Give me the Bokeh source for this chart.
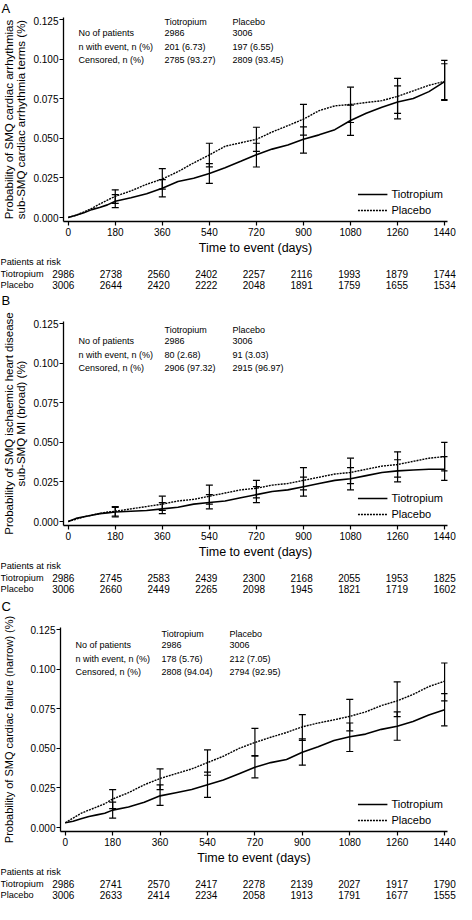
from bokeh.plotting import figure
from bokeh.layouts import column
from bokeh.models import (ColumnDataSource, FixedTicker, Label, Range1d, Whisker, TeeHead)
from bokeh.core.properties import value
from bokeh.embed import file_html
from bokeh.resources import INLINE

FONT = "Liberation Sans"

# ---------------- data ----------------
x_ticks = [0, 180, 360, 540, 720, 900, 1080, 1260, 1440]
x_tick_labels = ["0", "180", "360", "540", "720", "900", "1080", "1260", "1440"]
y_ticks = [0.0, 0.025, 0.05, 0.075, 0.1, 0.125]
y_tick_labels = ["0.000", "0.025", "0.050", "0.075", "0.100", "0.125"]
x_axis_title = "Time to event (days)"
groups = ["Tiotropium", "Placebo"]
stat_rows = ["No of patients", "n with event, n (%)", "Censored, n (%)"]
risk_title = "Patients at risk"
panel_letters = ["A", "B", "C"]

curve_days = [0, 30, 60, 90, 120, 150, 180, 240, 300, 360, 420, 480, 540, 600,
              660, 720, 780, 840, 900, 960, 1020, 1080, 1140, 1200, 1260, 1320, 1380, 1440]
ci_days = [180, 360, 540, 720, 900, 1080, 1260, 1440]

# Panel A
a_ylabel = "Probability of SMQ cardiac arrhythmias\nsub-SMQ cardiac arrhythmia terms (%)"
a_tio = [0, 0.0015, 0.003, 0.005, 0.0063, 0.008, 0.0103, 0.0125, 0.015, 0.0185, 0.0228, 0.0248,
         0.0278, 0.0315, 0.0355, 0.0397, 0.0432, 0.0458, 0.0494, 0.0522, 0.0555, 0.0613, 0.0658,
         0.0697, 0.073, 0.0752, 0.0795, 0.0858]
a_pla = [0, 0.0015, 0.0035, 0.0058, 0.0085, 0.011, 0.0134, 0.0168, 0.021, 0.0243, 0.029, 0.0345,
         0.0395, 0.045, 0.0472, 0.0494, 0.054, 0.058, 0.0621, 0.0675, 0.0705, 0.0714, 0.0726,
         0.0738, 0.0765, 0.080, 0.0835, 0.086]
a_tio_lo = [0.0062, 0.013, 0.0216, 0.0319, 0.0407, 0.0519, 0.0623, 0.074]
a_tio_hi = [0.0145, 0.024, 0.034, 0.0469, 0.0572, 0.071, 0.0831, 0.0971]
a_pla_lo = [0.009, 0.018, 0.032, 0.0418, 0.052, 0.060, 0.0658, 0.0745]
a_pla_hi = [0.0175, 0.0309, 0.0469, 0.057, 0.0714, 0.0823, 0.0879, 0.0992]
a_stats_tio = ["2986", "201 (6.73)", "2785 (93.27)"]
a_stats_pla = ["3006", "197 (6.55)", "2809 (93.45)"]
a_risk_tio = ["2986", "2738", "2560", "2402", "2257", "2116", "1993", "1879", "1744"]
a_risk_pla = ["3006", "2644", "2420", "2222", "2048", "1891", "1759", "1655", "1534"]

# Panel B
b_ylabel = "Probability of SMQ ischaemic heart disease\nsub-SMQ MI (broad) (%)"
b_tio = [0, 0.002, 0.003, 0.004, 0.005, 0.0055, 0.006, 0.0065, 0.007, 0.008, 0.009, 0.011,
         0.012, 0.013, 0.015, 0.017, 0.019, 0.020, 0.022, 0.024, 0.026, 0.027, 0.029, 0.031,
         0.032, 0.0325, 0.033, 0.033]
b_pla = [0, 0.0015, 0.003, 0.004, 0.005, 0.006, 0.0065, 0.008, 0.0095, 0.011, 0.013, 0.014,
         0.016, 0.018, 0.020, 0.021, 0.023, 0.024, 0.026, 0.028, 0.030, 0.031, 0.033, 0.035,
         0.036, 0.038, 0.040, 0.041]
b_tio_lo = [0.003, 0.005, 0.008, 0.012, 0.016, 0.020, 0.025, 0.026]
b_tio_hi = [0.009, 0.012, 0.017, 0.022, 0.028, 0.034, 0.039, 0.041]
b_pla_lo = [0.0035, 0.007, 0.011, 0.015, 0.020, 0.024, 0.028, 0.032]
b_pla_hi = [0.0095, 0.016, 0.023, 0.026, 0.034, 0.040, 0.044, 0.050]
b_stats_tio = ["2986", "80 (2.68)", "2906 (97.32)"]
b_stats_pla = ["3006", "91 (3.03)", "2915 (96.97)"]
b_risk_tio = ["2986", "2745", "2583", "2439", "2300", "2168", "2055", "1953", "1825"]
b_risk_pla = ["3006", "2660", "2449", "2265", "2098", "1945", "1821", "1719", "1602"]

# Panel C
c_ylabel = "Probability of SMQ cardiac failure (narrow) (%)"
c_tio = [0.003, 0.004, 0.0055, 0.007, 0.008, 0.009, 0.011, 0.013, 0.016, 0.020, 0.022, 0.024,
         0.027, 0.030, 0.034, 0.038, 0.041, 0.043, 0.0475, 0.051, 0.055, 0.0573, 0.059, 0.062,
         0.064, 0.067, 0.071, 0.0743]
c_pla = [0.003, 0.006, 0.009, 0.011, 0.013, 0.015, 0.018, 0.022, 0.027, 0.031, 0.034, 0.037,
         0.041, 0.045, 0.050, 0.0537, 0.057, 0.060, 0.0636, 0.066, 0.068, 0.0702, 0.073, 0.077,
         0.080, 0.084, 0.089, 0.0924]
c_tio_lo = [0.006, 0.014, 0.019, 0.0314, 0.0394, 0.048, 0.0551, 0.0642]
c_tio_hi = [0.016, 0.027, 0.035, 0.0455, 0.056, 0.066, 0.073, 0.0845]
c_pla_lo = [0.012, 0.024, 0.033, 0.045, 0.055, 0.061, 0.070, 0.080]
c_pla_hi = [0.024, 0.037, 0.049, 0.0626, 0.0713, 0.0809, 0.092, 0.1039]
c_stats_tio = ["2986", "178 (5.76)", "2808 (94.04)"]
c_stats_pla = ["3006", "212 (7.05)", "2794 (92.95)"]
c_risk_tio = ["2986", "2741", "2570", "2417", "2278", "2139", "2027", "1917", "1790"]
c_risk_pla = ["3006", "2633", "2414", "2234", "2058", "1913", "1791", "1677", "1555"]

# ---------------- layout constants ----------------
W = 456
LEFT, RIGHT, AXIS_BOTTOM = 58, 9, 36
FH = 204
X0, X1 = -18, 1451
Y0, Y1 = -0.0025, 0.1263
DPP = (X1 - X0) / (W - LEFT - RIGHT)   # days per pixel
RX0, RX1 = X0 - LEFT * DPP, X1 + RIGHT * DPP


def make_main(ylabel, ylabel_size, tio, pla, tio_lo, tio_hi, pla_lo, pla_hi,
              stats_tio, stats_pla, top, header_off, ylabel_standoff):
    p = figure(width=W, height=top + FH + AXIS_BOTTOM, x_range=Range1d(X0, X1),
               y_range=Range1d(Y0, Y1), output_backend="svg",
               toolbar_location=None, min_border_left=LEFT, min_border_right=RIGHT,
               min_border_top=top, min_border_bottom=AXIS_BOTTOM, frame_align=False)
    p.outline_line_color = None
    p.grid.visible = False

    for ax in (p.xaxis[0], p.yaxis[0]):
        ax.axis_line_width = 1.3
        ax.axis_line_color = "black"
        ax.major_tick_line_width = 1.2
        ax.major_tick_out = 4
        ax.major_tick_in = 0
        ax.minor_tick_line_color = None
        ax.major_label_text_font = FONT
        ax.major_label_text_font_size = "10px"
        ax.major_label_text_color = "black"
        ax.axis_label_text_font = FONT
        ax.axis_label_text_font_style = "normal"
        ax.axis_label_text_color = "black"

    p.xaxis.ticker = FixedTicker(ticks=x_ticks)
    p.xaxis.major_label_overrides = dict(zip(x_ticks, x_tick_labels))
    p.xaxis.major_label_standoff = 2
    p.xaxis.axis_label = x_axis_title
    p.xaxis.axis_label_text_font_size = "12.5px"
    p.xaxis.axis_label_standoff = 2

    p.yaxis.ticker = FixedTicker(ticks=y_ticks)
    p.yaxis.major_label_overrides = dict(zip(y_ticks, y_tick_labels))
    p.yaxis.major_label_standoff = 1
    p.yaxis.axis_label = ylabel
    p.yaxis.axis_label_text_font_size = ylabel_size
    p.yaxis.axis_label_text_line_height = 1.0
    p.yaxis.axis_label_standoff = ylabel_standoff

    # curves
    p.line(curve_days, tio, line_color="black", line_width=1.6, legend_label=groups[0])
    p.line(curve_days, pla, line_color="black", line_width=1.4, line_dash="2 1",
           legend_label=groups[1])

    # confidence intervals
    for lo, hi in ((tio_lo, tio_hi), (pla_lo, pla_hi)):
        src = ColumnDataSource(dict(x=ci_days, lo=lo, hi=hi))
        p.add_layout(Whisker(source=src, base="x", lower="lo", upper="hi",
                             line_color="black", line_width=1.2,
                             upper_head=TeeHead(size=7, line_width=1.2, line_color="black"),
                             lower_head=TeeHead(size=7, line_width=1.2, line_color="black")))

    # legend
    lg = p.legend[0]
    lg.location = "bottom_right"
    lg.border_line_color = None
    lg.background_fill_alpha = 0
    lg.label_text_font = FONT
    lg.label_text_font_size = "11px"
    lg.label_text_color = "black"
    lg.glyph_width = 30
    lg.glyph_height = 14
    lg.label_height = 14
    lg.label_standoff = 4
    lg.spacing = 2
    lg.padding = 0
    lg.margin = 4

    # stats table inside the frame
    cols_x = [15, 101, 169]
    row_offs = [header_off, header_off + 11.7, header_off + 25.2, header_off + 38.5]
    for cx, txt in ((cols_x[1], groups[0]), (cols_x[2], groups[1])):
        p.add_layout(Label(x=cx, y=FH - row_offs[0], x_units="screen", y_units="screen",
                           text=txt, text_font=FONT, text_font_size="9px",
                           text_color="black", text_baseline="middle"))
    for i in range(3):
        for cx, txt in ((cols_x[0], stat_rows[i]), (cols_x[1], stats_tio[i]),
                        (cols_x[2], stats_pla[i])):
            p.add_layout(Label(x=cx, y=FH - row_offs[i + 1], x_units="screen",
                               y_units="screen", text=txt, text_font=FONT,
                               text_font_size="9px", text_color="black",
                               text_baseline="middle"))
    return p


def strip(height):
    s = figure(width=W, height=height, x_range=Range1d(RX0, RX1),
               y_range=Range1d(height, 0), output_backend="svg", toolbar_location=None,
               x_axis_type=None, y_axis_type=None, min_border=0, min_border_left=0,
               min_border_right=0, min_border_top=0, min_border_bottom=0,
               frame_align=False)
    s.outline_line_color = None
    return s


def add_letter(s, letter, top):
    s.text(x=[RX0 + 1.0 * DPP], y=[top], text=[letter], text_font=value(FONT),
           text_font_size="13px", text_align="left", text_baseline="top",
           text_color="black")


def make_risk(risk_tio, risk_pla, height, next_letter=None, letter_top=0):
    r = strip(height)
    row_y = [4.5, 16, 27.5]
    r.text(x=[RX0] * 3, y=row_y, text=[risk_title] + groups,
           text_font=value(FONT), text_font_size="9.2px",
           text_align="left", text_baseline="middle", text_color="black")
    for yy, vals in zip(row_y[1:], (risk_tio, risk_pla)):
        r.text(x=x_ticks, y=[yy] * len(x_ticks), text=vals, text_font=value(FONT),
               text_font_size="10px", text_align="center", text_baseline="middle",
               text_color="black")
    if next_letter:
        add_letter(r, next_letter, letter_top)
    return r


la = strip(16)
add_letter(la, panel_letters[0], 0)
pa = make_main(a_ylabel, "11.5px", a_tio, a_pla, a_tio_lo, a_tio_hi, a_pla_lo, a_pla_hi,
               a_stats_tio, a_stats_pla, 1, 4, 3)
ra = make_risk(a_risk_tio, a_risk_pla, 52, panel_letters[1], 35)
pb = make_main(b_ylabel, "11.5px", b_tio, b_pla, b_tio_lo, b_tio_hi, b_pla_lo, b_pla_hi,
               b_stats_tio, b_stats_pla, 12, 8, 3)
rb = make_risk(b_risk_tio, b_risk_pla, 54, panel_letters[2], 37)
pc = make_main(c_ylabel, "11px", c_tio, c_pla, c_tio_lo, c_tio_hi, c_pla_lo, c_pla_hi,
               c_stats_tio, c_stats_pla, 12, 6, 12)
rc = make_risk(c_risk_tio, c_risk_pla, 38)

layout = column(la, pa, ra, pb, rb, pc, rc, spacing=0)
open("out.html", "w").write(file_html(layout, INLINE))
